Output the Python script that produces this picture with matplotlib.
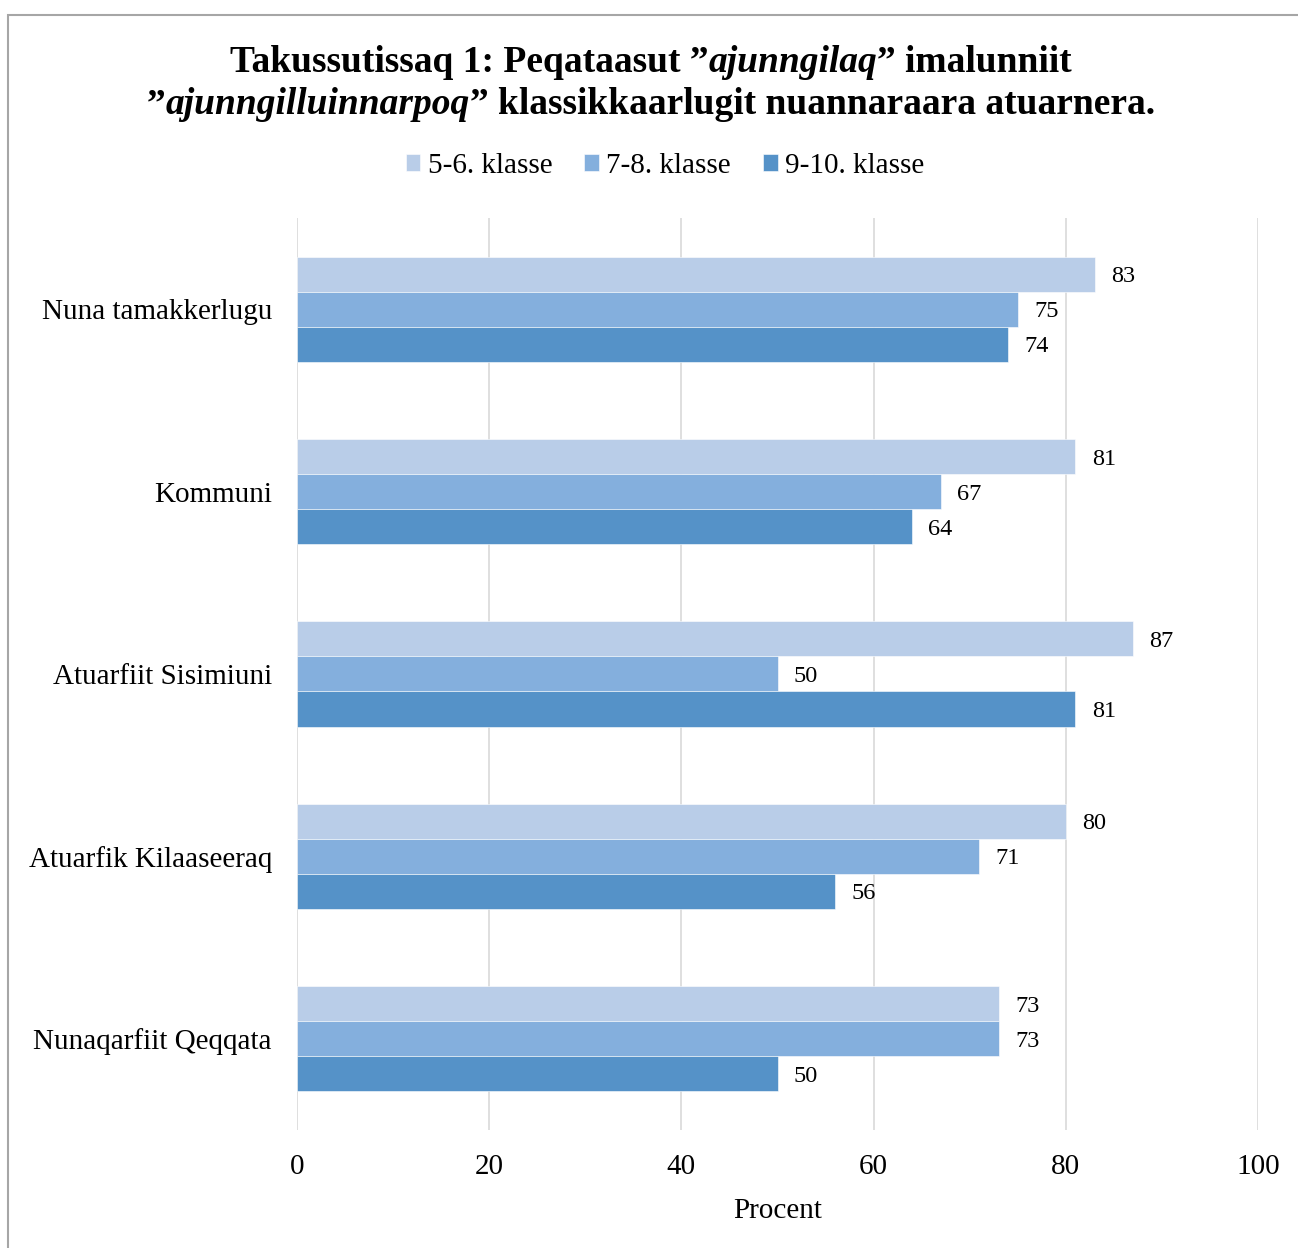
import matplotlib

matplotlib.use("Agg")
import matplotlib.pyplot as plt
import numpy as np
from matplotlib.patches import Rectangle

categories = [
    "Nuna tamakkerlugu",
    "Kommuni",
    "Atuarfiit Sisimiuni",
    "Atuarfik Kilaaseeraq",
    "Nunaqarfiit Qeqqata",
]
series_names = ["5-6. klasse", "7-8. klasse", "9-10. klasse"]
values_56 = [83, 81, 87, 80, 73]
values_78 = [75, 67, 50, 71, 73]
values_910 = [74, 64, 81, 56, 50]
x_ticks = [0, 20, 40, 60, 80, 100]
x_label = "Procent"

colors = ["#B9CDE8", "#84AFDD", "#5592C8"]

plt.rcParams["font.family"] = ["Liberation Serif", "DejaVu Serif"]

fig = plt.figure(figsize=(12.98, 12.48), dpi=100)
ax = fig.add_axes([0.2288, 0.0946, 0.7404, 0.7307])

# outer border like the spreadsheet chart frame (cut off on right/bottom)
fig.patches.append(Rectangle((8 / 1298, -0.1), 1.2, 1 - 15 / 1248 + 0.1,
                             transform=fig.transFigure, fill=False,
                             edgecolor="#A6A6A6", linewidth=1.5))

y = np.arange(len(categories))
bar_h = 0.192
all_vals = [values_56, values_78, values_910]
for k, (name, vals, col) in enumerate(zip(series_names, all_vals, colors)):
    pos = y + (k - 1) * bar_h
    ax.barh(pos, vals, height=bar_h, color=col, label=name, zorder=2,
            edgecolor="white", linewidth=0.4)
    for p, v in zip(pos, vals):
        ax.text(v + 1.7, p, f"{v}", va="center_baseline", ha="left", fontsize=17.5)

ax.set_ylim(len(categories) - 0.5, -0.5)
ax.set_xlim(0, 100)
ax.set_xticks(x_ticks)
ax.set_yticks(y)
ax.set_yticklabels(categories, fontsize=21)
ax.tick_params(axis="y", length=0, pad=18)
ax.tick_params(axis="x", length=0, pad=17, labelsize=21)
ax.grid(axis="x", color="#D9D9D9", linewidth=1.2, zorder=0)
ax.set_axisbelow(True)
for s in ax.spines.values():
    s.set_visible(False)
ax.set_xlabel(x_label, fontsize=21, labelpad=13)

# title with mixed bold / bold-italic pieces, each line centred
title_lines = [
    [("Takussutissaq 1: Peqataasut \u201d", "normal"), ("ajunngilaq", "italic"),
     ("\u201d imalunniit", "normal")],
    [("\u201d", "normal"), ("ajunngilluinnarpoq", "italic"),
     ("\u201d klassikkaarlugit nuannaraara atuarnera.", "normal")],
]
renderer = fig.canvas.get_renderer()
for line, ypx in zip(title_lines, [62, 105]):
    pieces = []
    for txt, style in line:
        t = fig.text(0, 1 - ypx / 1248, txt, fontsize=27, fontweight="bold",
                     fontstyle=style, va="center", ha="left")
        pieces.append(t)
    widths = [t.get_window_extent(renderer).width for t in pieces]
    x0 = (fig.bbox.width - sum(widths)) / 2 + 2
    for t, w in zip(pieces, widths):
        t.set_x(x0 / fig.bbox.width)
        x0 += w

fig.legend(loc="center", bbox_to_anchor=(665 / 1298, 1 - 166 / 1248), ncol=3,
           frameon=False, fontsize=21, handlelength=0.5, handleheight=0.5,
           handletextpad=0.25, columnspacing=1.1)

fig.savefig("out.png", dpi=100)
